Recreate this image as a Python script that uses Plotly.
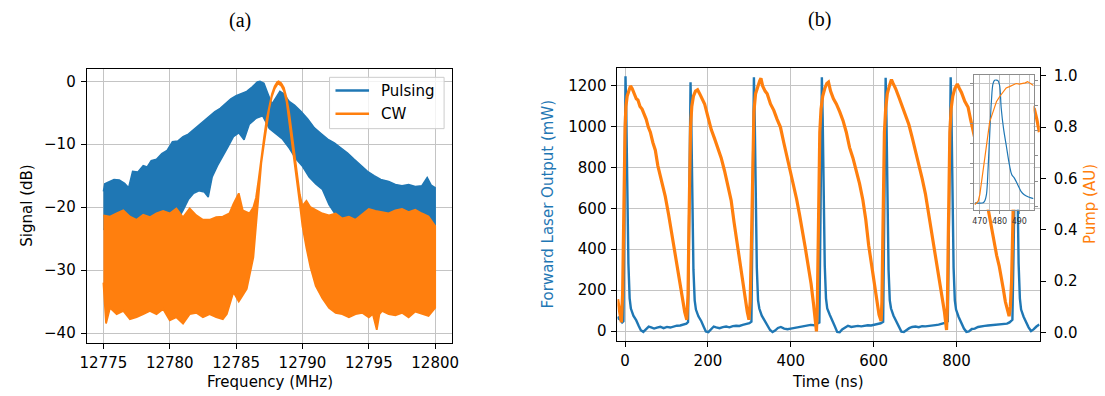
import plotly.graph_objects as go

W, H = 1105, 396
BLUE = "#1f77b4"
ORANGE = "#ff7f0e"
FONT = "DejaVu Sans"

# ---------------- Panel (a): spectra (dB) read as upper / lower envelopes ----------------
pulsing_hi_f = [12775.0, 12775.1, 12775.4, 12775.8, 12776.2, 12776.6, 12776.9, 12777.2, 12777.6, 12778.0,
                12778.3, 12778.6, 12779.0, 12779.4, 12779.8, 12780.2, 12780.6, 12781.0, 12781.4, 12781.8,
                12782.2, 12782.6, 12783.0, 12783.4, 12783.8, 12784.2, 12784.6, 12785.0, 12785.4, 12785.8,
                12786.2, 12786.6, 12786.8, 12787.1, 12787.4, 12787.7, 12788.0, 12788.3, 12788.6, 12789.0,
                12789.4, 12789.9, 12790.4, 12790.9, 12791.4, 12791.9, 12792.4, 12792.9, 12793.4, 12793.9,
                12794.4, 12794.9, 12795.4, 12795.9, 12796.5, 12797.0, 12797.5, 12798.0, 12798.5, 12799.0,
                12799.4, 12799.7, 12800.0]
pulsing_hi_db = [-17.5, -16.3, -16.0, -15.6, -15.7, -16.2, -16.9, -14.3, -14.4, -13.4,
                 -13.6, -12.6, -12.4, -11.5, -11.0, -9.6, -9.5, -8.8, -8.4, -7.7,
                 -7.0, -6.3, -5.6, -4.8, -4.3, -3.6, -2.8, -2.3, -1.9, -1.6,
                 -0.9, -0.1, 0.0, -0.3, -2.0, -3.6, -2.6, -1.6, -2.0, -3.2,
                 -3.8, -4.8, -6.0, -7.4, -8.3, -9.2, -9.8, -10.6, -11.4, -12.4,
                 -13.4, -14.3, -15.0, -15.6, -15.9, -16.4, -16.6, -16.4, -16.7, -16.6,
                 -15.3, -16.5, -16.9]
pulsing_lo_f = [12775.0, 12776.0, 12777.0, 12778.0, 12779.0, 12780.0, 12780.6, 12781.0, 12781.4, 12781.8,
                12782.2, 12782.6, 12782.9, 12783.2, 12783.6, 12784.0, 12784.4, 12784.8, 12785.2, 12785.6,
                12786.0, 12786.5, 12787.0, 12787.5, 12788.0, 12788.5, 12789.0, 12789.5, 12790.0, 12790.5,
                12791.0, 12791.5, 12792.0, 12792.5, 12793.0, 12793.5, 12794.5, 12796.0, 12798.0, 12800.0]
pulsing_lo_db = [-23.5, -24.0, -24.5, -24.0, -24.0, -23.0, -22.0, -20.5, -18.8, -17.8,
                 -17.4, -17.6, -18.4, -15.2, -13.4, -11.9, -10.4, -8.8, -8.2, -9.3,
                 -6.8, -5.9, -5.5, -7.5, -8.4, -9.2, -10.6, -12.3, -13.5, -15.2,
                 -16.3, -17.2, -19.6, -21.2, -22.4, -23.2, -24.0, -24.0, -24.0, -24.0]

cw_hi_f = [12775.0, 12775.5, 12776.0, 12776.5, 12777.0, 12777.5, 12778.0, 12778.5, 12779.0, 12779.5,
           12780.0, 12780.5, 12781.0, 12781.5, 12782.0, 12782.5, 12783.0, 12783.5, 12784.0, 12784.5,
           12784.8, 12785.2, 12785.5, 12786.0, 12786.3, 12786.5, 12786.7, 12786.9, 12787.1, 12787.3,
           12787.5, 12787.7, 12787.9, 12788.1, 12788.2, 12788.4, 12788.6, 12788.8, 12789.0, 12789.2,
           12789.4, 12789.6, 12789.8, 12790.0, 12790.3, 12790.6, 12791.0, 12791.5, 12792.0, 12792.5,
           12793.0, 12793.5, 12794.0, 12794.5, 12795.0, 12795.5, 12796.0, 12796.5, 12797.0, 12797.5,
           12798.0, 12798.5, 12799.0, 12799.5, 12800.0]
cw_hi_db = [-21.3, -21.5, -21.0, -20.5, -21.5, -22.0, -21.2, -21.6, -21.0, -20.6,
            -21.0, -20.2, -21.6, -20.2, -21.3, -22.0, -22.0, -21.6, -21.5, -21.0,
            -19.5, -17.8, -20.5, -21.0, -20.0, -18.5, -15.5, -12.0, -9.0, -6.0,
            -3.8, -2.0, -0.8, -0.1, 0.0, -0.3, -1.0, -2.6, -5.0, -8.5,
            -12.0, -15.2, -18.0, -19.8, -19.0, -20.0, -20.5, -21.0, -21.3, -21.0,
            -21.8, -21.5, -22.0, -21.2, -20.3, -20.6, -20.8, -21.0, -20.5, -20.3,
            -20.8, -20.4, -21.0, -21.5, -23.0]
cw_lo_f = [12775.0, 12775.2, 12775.5, 12776.0, 12776.5, 12777.0, 12777.5, 12778.0, 12778.5, 12779.0,
           12779.5, 12780.0, 12780.5, 12781.0, 12781.5, 12782.0, 12782.5, 12783.0, 12783.5, 12784.0,
           12784.3, 12784.8, 12785.2, 12785.5, 12785.8, 12786.0, 12786.3, 12786.5, 12786.7, 12786.9,
           12787.1, 12787.3, 12787.5, 12787.7, 12787.9, 12788.1, 12788.2, 12788.4, 12788.6, 12788.8,
           12789.0, 12789.2, 12789.4, 12789.6, 12789.8, 12790.0, 12790.3, 12790.6, 12791.0, 12791.5,
           12792.0, 12792.5, 12793.0, 12793.5, 12794.0, 12794.5, 12795.0, 12795.3, 12795.6, 12795.8,
           12796.0, 12796.5, 12797.0, 12797.5, 12798.0, 12798.5, 12799.0, 12799.5, 12800.0]
cw_lo_db = [-32.0, -38.5, -36.0, -37.0, -36.5, -37.8, -37.5, -37.0, -36.5, -37.0,
            -36.2, -38.0, -37.5, -38.5, -37.0, -36.8, -37.5, -37.0, -37.5, -37.8,
            -37.0, -33.5, -35.0, -34.0, -33.0, -31.0, -28.0, -24.0, -18.0, -13.0,
            -10.0, -6.8, -4.3, -2.4, -1.2, -0.5, -0.4, -0.7, -1.5, -3.2,
            -5.8, -9.3, -13.0, -16.2, -19.5, -23.0, -26.5, -29.5, -32.5, -34.5,
            -36.0, -36.8, -37.0, -37.5, -37.0, -36.8, -37.5, -37.0, -39.5, -37.0,
            -36.5, -37.0, -37.2, -36.8, -37.5, -36.6, -37.0, -37.3, -36.0]

freq_ticks = [12775, 12780, 12785, 12790, 12795, 12800]
signal_ticks = [-40, -30, -20, -10, 0]
legend_labels = ["Pulsing", "CW"]

# ---------------- Panel (b): time traces ----------------
laser_t_ns = [-18, -15, -11, -7, -4,
              -2, 1, 3, 5, 8, 11, 14, 20, 27, 33, 38, 44, 50, 57, 63, 70, 77, 85, 93, 101, 109, 117, 125, 133, 141, 148, 152,
              155, 158, 160, 162, 165, 168, 171, 177, 184, 190, 195, 201, 207, 214, 220, 228, 236, 244, 252, 260, 268, 276, 284, 292, 300, 305,
              308, 311, 313, 315, 318, 321, 324, 330, 337, 344, 350, 356, 362, 369, 376, 384, 392, 400, 408, 416, 424, 432, 440, 448, 456, 463, 469,
              472, 475, 477, 479, 482, 485, 488, 494, 500, 506, 512, 518, 524, 531, 538, 546, 554, 562, 570, 578, 586, 594, 602, 610, 617, 623,
              626, 629, 631, 633, 636, 639, 642, 648, 655, 661, 667, 673, 679, 686, 693, 701, 709, 717, 725, 733, 741, 749, 757, 765, 772, 779,
              783, 786, 788, 790, 793, 796, 799, 805, 812, 818, 824, 830, 837, 844, 852, 860, 868, 876, 884, 892, 900, 908, 915, 922, 928, 935,
              940, 943, 945, 947, 950, 953, 956, 962, 968, 974, 980, 986, 993, 1000]
laser_mw = [70, 60, 55, 42, 48,
            680, 1245, 1050, 700, 330, 160, 110, 75, 52, 25, 4, -4, 6, 22, 18, 12, 17, 21, 14, 20, 17, 22, 26, 27, 31, 36, 44,
            600, 1216, 1000, 650, 300, 150, 105, 72, 48, 20, -2, -5, 8, 22, 18, 14, 19, 22, 18, 24, 26, 25, 30, 33, 38, 46,
            650, 1240, 1030, 680, 310, 150, 110, 75, 50, 30, 5, -5, 2, 15, 20, 12, 9, 12, 15, 18, 21, 24, 27, 30, 28, 34, 42,
            620, 1240, 1040, 690, 320, 160, 110, 80, 55, 25, -4, -6, 8, 18, 26, 20, 22, 25, 23, 26, 28, 27, 30, 32, 38, 45,
            640, 1238, 1030, 680, 300, 150, 110, 75, 45, 20, -3, -5, 6, 14, 20, 22, 19, 24, 23, 26, 27, 29, 31, 34, 40, 48,
            640, 1240, 1040, 690, 310, 150, 105, 70, 40, 12, -4, -2, 10, 12, 20, 24, 25, 27, 28, 29, 31, 32, 32, 36, 42, 55,
            660, 1240, 1040, 700, 330, 160, 105, 70, 42, 18, 0, 8, 22, 32]

pump_t_ns = [-18, -15, -12, -9, -6, -4, -2, 0, 2, 5, 9, 13, 17, 22, 27, 31, 36, 41, 46, 51, 56, 61, 67, 73, 79, 85, 91, 97,
             105, 113, 121, 129, 137, 144, 149,
             152, 154, 156, 158, 161, 165, 170, 175, 180, 186, 192, 200, 208, 216, 224, 232, 240, 248, 256, 263, 270, 277, 284, 290, 295, 299,
             302, 305, 307, 309, 311, 315, 320, 325, 328, 332, 338, 343, 351, 359, 367, 375, 383, 391, 399, 407, 414, 421, 428, 435, 442, 449, 455, 459, 462,
             464, 466, 468, 470, 473, 477, 482, 487, 491, 496, 503, 510, 518, 526, 534, 542, 550, 558, 566, 574, 581, 588, 595, 602, 608, 613, 618,
             620, 622, 624, 626, 629, 633, 638, 643, 647, 653, 661, 669, 677, 685, 693, 701, 709, 717, 725, 732, 739, 746, 753, 760, 766, 771, 776,
             778, 780, 782, 784, 787, 791, 796, 802, 807, 812, 820, 828, 834, 840, 848, 856, 864, 871, 877, 884, 891, 897, 903, 908, 913, 918, 923, 927,
             930, 933, 936, 938, 940, 943, 947, 952, 958, 964, 970, 976, 982, 988, 994, 1000]
pump_au = [0.13, 0.10, 0.06, 0.04, 0.15, 0.40, 0.65, 0.80, 0.88, 0.92, 0.94, 0.96, 0.95, 0.93, 0.91, 0.905, 0.88, 0.87, 0.85, 0.83, 0.80, 0.78, 0.74, 0.71, 0.65, 0.61, 0.57, 0.53,
           0.46, 0.38, 0.31, 0.23, 0.15, 0.08, 0.05,
           0.15, 0.40, 0.65, 0.80, 0.88, 0.92, 0.94, 0.945, 0.93, 0.91, 0.89, 0.84, 0.79, 0.755, 0.72, 0.68, 0.63, 0.57, 0.515, 0.43, 0.35, 0.27, 0.20, 0.13, 0.08, 0.05,
           0.12, 0.35, 0.60, 0.78, 0.86, 0.93, 0.96, 0.98, 0.99, 0.96, 0.94, 0.93, 0.89, 0.865, 0.83, 0.80, 0.74, 0.684, 0.63, 0.58, 0.52, 0.46, 0.40, 0.33, 0.26, 0.19, 0.11, 0.05, 0.005,
           0.10, 0.35, 0.60, 0.78, 0.87, 0.92, 0.95, 0.97, 0.975, 0.94, 0.91, 0.89, 0.86, 0.826, 0.78, 0.72, 0.68, 0.632, 0.58, 0.516, 0.44, 0.34, 0.26, 0.19, 0.12, 0.07, 0.045,
           0.12, 0.35, 0.60, 0.78, 0.87, 0.93, 0.96, 0.985, 0.97, 0.95, 0.916, 0.88, 0.852, 0.81, 0.76, 0.71, 0.655, 0.60, 0.54, 0.47, 0.40, 0.33, 0.27, 0.20, 0.13, 0.08, 0.01,
           0.10, 0.35, 0.60, 0.78, 0.87, 0.92, 0.95, 0.968, 0.95, 0.935, 0.90, 0.877, 0.83, 0.79, 0.73, 0.66, 0.59, 0.52, 0.467, 0.41, 0.36, 0.30, 0.26, 0.22, 0.17, 0.12, 0.085, 0.064,
           0.10, 0.20, 0.42, 0.60, 0.75, 0.85, 0.91, 0.94, 0.95, 0.93, 0.91, 0.89, 0.88, 0.87, 0.83, 0.78]

inset_laser_t = [467.5, 469.5, 471.7, 472.6, 473.35, 474.2, 475.0, 475.85, 476.7, 477.5, 478.4, 479.2, 480.0, 480.85,
                 482.0, 483.35, 485.0, 486.2, 487.5, 489.2, 490.85, 492.5, 495.0, 497.2]
inset_laser_mw = [10, 8, 12, 35, 92, 357, 688, 1019, 1200, 1233, 1236, 1230, 1184, 952,
                  754, 588, 390, 291, 258, 192, 126, 92, 66, 53]
inset_pump_t = [467.5, 469.2, 470.0, 471.7, 473.35, 475.0, 476.7, 478.4, 480.0, 481.7, 483.35, 485.0, 486.7, 488.4,
                490.0, 491.7, 493.0, 494.2, 495.9, 497.2]
inset_pump_au = [0.013, 0.04, 0.092, 0.30, 0.49, 0.67, 0.75, 0.83, 0.87, 0.91, 0.94, 0.95, 0.96, 0.975,
                 0.97, 0.975, 0.98, 0.99, 0.975, 0.96]

time_ticks = [0, 200, 400, 600, 800]
laser_ticks = [0, 200, 400, 600, 800, 1000, 1200]
pump_ticks = [0.0, 0.2, 0.4, 0.6, 0.8, 1.0]
inset_time_ticks = [470, 480, 490]


def fx(px):
    return px / W


def fy(py):
    return 1 - py / H


fig = go.Figure()

# Panel (a) bands
fig.add_trace(go.Scatter(x=pulsing_hi_f + pulsing_lo_f[::-1], y=pulsing_hi_db + pulsing_lo_db[::-1],
                         fill="toself", fillcolor=BLUE, mode="lines", line=dict(color=BLUE, width=1.5),
                         xaxis="x", yaxis="y", name=legend_labels[0], showlegend=False, hoverinfo="skip"))
fig.add_trace(go.Scatter(x=cw_hi_f + cw_lo_f[::-1], y=cw_hi_db + cw_lo_db[::-1],
                         fill="toself", fillcolor=ORANGE, mode="lines", line=dict(color=ORANGE, width=1.8),
                         xaxis="x", yaxis="y", name=legend_labels[1], showlegend=False, hoverinfo="skip"))

# Panel (b)
fig.add_trace(go.Scatter(x=laser_t_ns, y=laser_mw, mode="lines", line=dict(color=BLUE, width=2.4),
                         xaxis="x2", yaxis="y2", showlegend=False))
fig.add_trace(go.Scatter(x=pump_t_ns, y=pump_au, mode="lines", line=dict(color=ORANGE, width=3.2),
                         xaxis="x2", yaxis="y3", showlegend=False))
# Inset
fig.add_trace(go.Scatter(x=inset_laser_t, y=inset_laser_mw, mode="lines", line=dict(color=BLUE, width=1.2, shape="spline"),
                         xaxis="x4", yaxis="y4", showlegend=False))
fig.add_trace(go.Scatter(x=inset_pump_t, y=inset_pump_au, mode="lines", line=dict(color=ORANGE, width=1.2),
                         xaxis="x4", yaxis="y5", showlegend=False))

tickfont = dict(family=FONT, size=15, color="black")
grid = dict(showgrid=True, gridcolor="#c4c4c4", gridwidth=1, zeroline=False)
frame = dict(showline=True, linecolor="black", linewidth=1, ticks="outside", ticklen=5,
             tickcolor="black", tickwidth=1, tickfont=tickfont)

# matplotlib-style legend box (drawn as paper shapes + text)
legend_shapes = [
    dict(type="rect", xref="paper", yref="paper", x0=fx(326.7), x1=fx(442.7), y0=fy(128.3), y1=fy(76.7),
         fillcolor="rgba(255,255,255,0.8)", line=dict(color="#cccccc", width=1), layer="above"),
    dict(type="line", xref="paper", yref="paper", x0=fx(332.7), x1=fx(366.7), y0=fy(90), y1=fy(90),
         line=dict(color=BLUE, width=2.5), layer="above"),
    dict(type="line", xref="paper", yref="paper", x0=fx(332.7), x1=fx(366.7), y0=fy(113.3), y1=fy(113.3),
         line=dict(color=ORANGE, width=2.5), layer="above"),
]

fig.update_layout(
    width=W, height=H, margin=dict(l=0, r=0, t=0, b=0), autosize=False, showlegend=False,
    paper_bgcolor="white", plot_bgcolor="white",
    font=dict(family=FONT, size=15, color="black"),
    xaxis=dict(domain=[fx(80.7), fx(451)], range=[12773.74, 12801.29], tickvals=freq_ticks,
               tickformat="d", anchor="y", mirror=True, ticklabelstandoff=1, **grid, **frame),
    yaxis=dict(domain=[fy(343.3), fy(68.3)], range=[-41.52, 1.96], tickvals=signal_ticks,
               anchor="x", mirror=True, ticklabelstandoff=2, **grid, **frame),
    xaxis2=dict(domain=[fx(618.3), fx(1046)], range=[-18.4, 1001], tickvals=time_ticks,
                anchor="y2", mirror=True, ticklabelstandoff=1, **grid, **frame),
    yaxis2=dict(domain=[fy(341.7), fy(67.3)], range=[-48.6, 1286], tickvals=laser_ticks,
                anchor="x2", mirror=True, ticklabelstandoff=2, **grid, **frame),
    yaxis3=dict(range=[-0.0325, 1.030], tickvals=pump_ticks, tickformat=".1f", overlaying="y2",
                anchor="x2", side="right", showgrid=False, zeroline=False, ticklabelstandoff=5, **frame),
    xaxis4=dict(domain=[fx(979.3), fx(1039.7)], range=[467, 497.2], tickvals=inset_time_ticks,
                anchor="y4", showline=True, mirror=True, linecolor="#8c8c8c", linewidth=1,
                ticks="outside", ticklen=3, tickcolor="#8c8c8c", ticklabelstandoff=1,
                tickfont=dict(family=FONT, size=8, color="#333333"),
                showgrid=True, gridcolor="#c4c4c4", gridwidth=1, zeroline=False,
                minor=dict(dtick=5, tick0=465, showgrid=True, gridcolor="#c4c4c4", gridwidth=1)),
    yaxis4=dict(domain=[fy(209.7), fy(74.7)], range=[-57, 1283], tickvals=laser_ticks, showticklabels=False,
                anchor="x4", showline=True, mirror=True, linecolor="#8c8c8c", linewidth=1,
                ticks="outside", ticklen=3, tickcolor="#8c8c8c",
                showgrid=True, gridcolor="#c4c4c4", gridwidth=1, zeroline=False),
    yaxis5=dict(range=[-0.027, 1.04], tickvals=pump_ticks, showticklabels=False, overlaying="y4",
                anchor="x4", side="right", showline=False, ticks="outside", ticklen=3, tickcolor="#8c8c8c",
                showgrid=False, zeroline=False),
    shapes=[dict(type="rect", xref="x4 domain", yref="y4 domain", x0=0, x1=1, y0=0, y1=1,
                 fillcolor="white", line=dict(width=0), layer="below")] + legend_shapes,
)


def label(text, px, py, size=15, color="black", family=FONT, angle=0, xanchor="center"):
    return dict(text=text, x=fx(px), y=fy(py), xref="paper", yref="paper", showarrow=False,
                xanchor=xanchor, yanchor="middle", textangle=angle,
                font=dict(family=family, size=size, color=color))


fig.update_layout(annotations=[
    label("(a)", 236, 20, size=20, family="Liberation Serif"),
    label("(b)", 823, 19, size=20, family="Liberation Serif"),
    label("Frequency (MHz)", 266, 383),
    label("Signal (dB)", 20, 206, angle=-90),
    label("Time (ns)", 832, 383),
    label("Forward Laser Output (mW)", 548, 204.5, color=BLUE, angle=-90),
    label("Pump (AU)", 1097, 204, color=ORANGE, angle=-90),
    label(legend_labels[0], 377, 90, xanchor="left"),
    label(legend_labels[1], 377, 113.3, xanchor="left"),
])

fig.write_html("out.html", config={"responsive": False, "displayModeBar": False},
               post_script="document.body.style.margin='0';document.body.style.overflow='hidden';")
